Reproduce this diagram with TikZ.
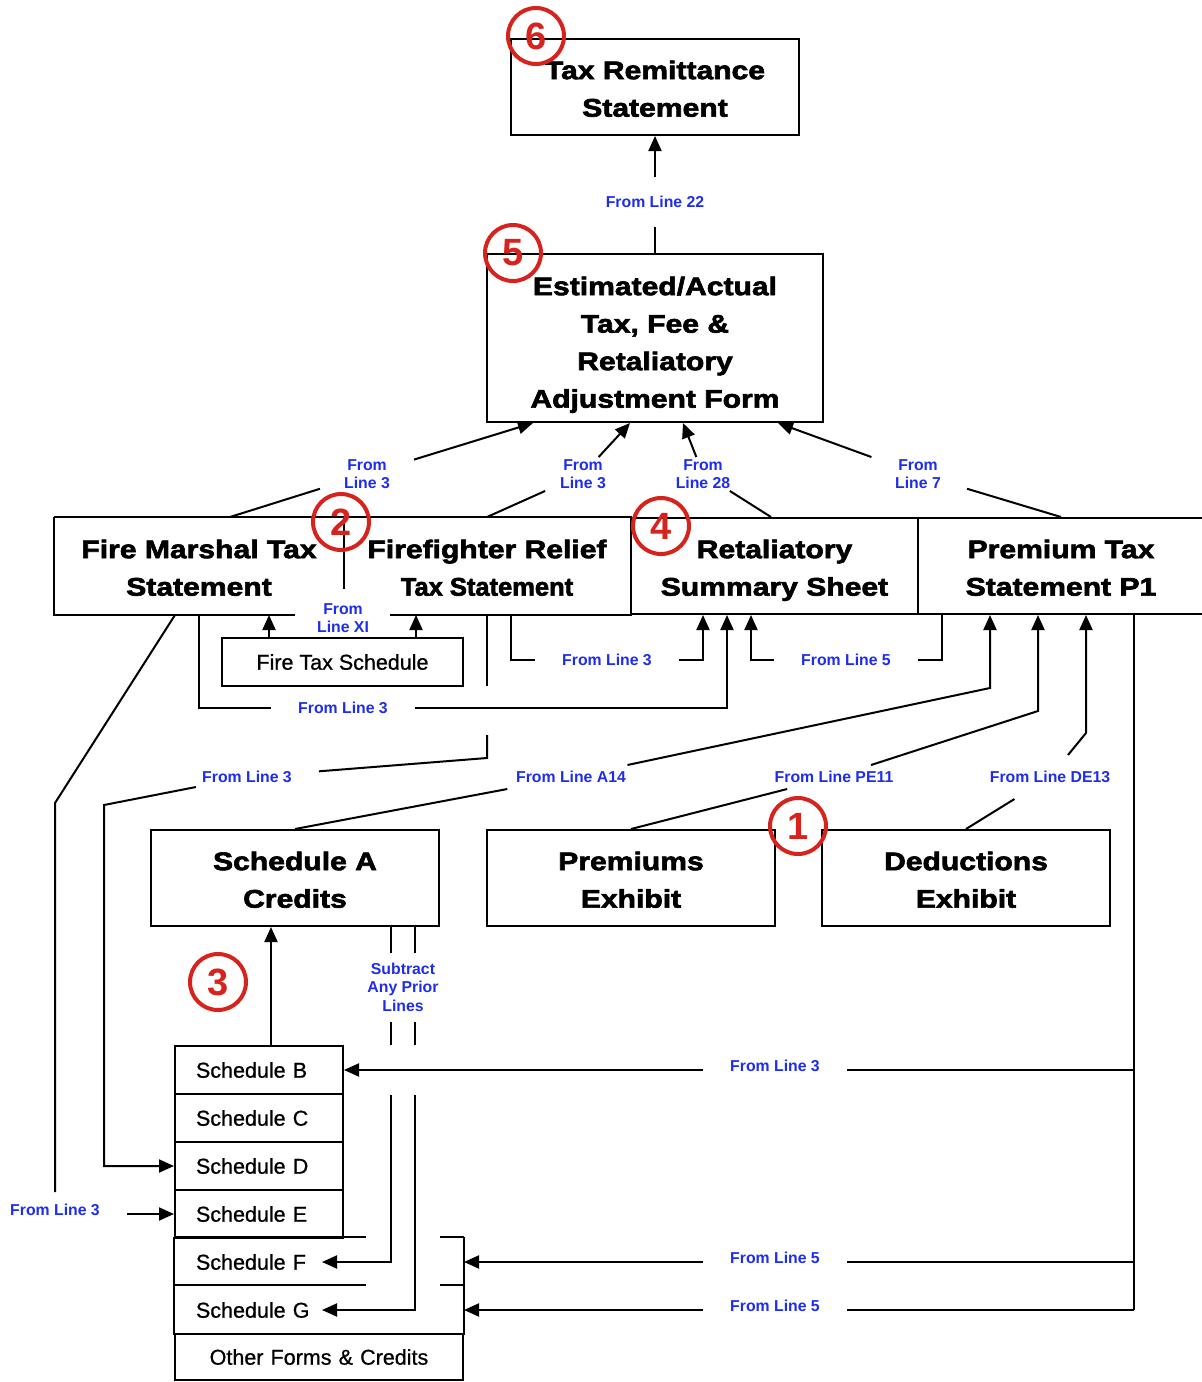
\documentclass[tikz,border=0pt]{standalone}
\usepackage{fontspec}
\setmainfont{Liberation Sans}
\newfontfamily\boxfont{Liberation Sans Bold}[FakeStretch=1.18,FakeBold=2.5]
\newfontfamily\boxfontn{Liberation Sans Bold}[FakeBold=2.5]
\newfontfamily\lblfontf{Liberation Sans Bold}
\newfontfamily\schfont{Liberation Sans}[FakeBold=0.8]
\usetikzlibrary{arrows.meta,calc}
\definecolor{lblblue}{RGB}{30,45,235}
\definecolor{numred}{RGB}{215,35,30}
\newcommand{\tS}{\rule{0pt}{31.8pt}}
\newcommand{\tSe}{\rule{0pt}{36.8pt}}
\newcommand{\bS}{\rule[-10pt]{0pt}{10pt}}
\begin{document}
\begin{tikzpicture}[x=1pt,y=-1pt,
  ln/.style={line width=2pt},
  arr/.style={line width=2pt,-{Triangle[length=15pt,width=13pt]}},
  bigbox/.style={line width=2pt, minimum height=96pt, inner sep=0pt, align=center, font=\boxfont\fontsize{25.5}{37.5}\selectfont},
  lbl/.style={text=lblblue, align=center, inner sep=0pt, font=\lblfontf\fontsize{15.8}{18.5}\selectfont},
  sched/.style={line width=2pt, minimum height=48pt, inner xsep=21pt, inner ysep=0pt, align=left, font=\schfont\fontsize{21.5}{25}\selectfont},
  num/.style={circle, draw=numred, line width=4pt, minimum size=56pt, inner sep=0pt, text=numred, font=\lblfontf\fontsize{38}{38}\selectfont},
]
\useasboundingbox (0,0) rectangle (1202,1382);

% main boxes
\node[bigbox,draw,minimum width=288pt] (trs) at (655,87) {\tS Tax Remittance\\Statement\bS};
\node[bigbox,draw,minimum width=336pt,minimum height=168pt] (ea) at (655,338) {\tSe Estimated/Actual\\Tax, Fee \&\\Retaliatory\\Adjustment Form\bS};
\node[bigbox,minimum width=288pt] (fm) at (199,566) {\tS Fire Marshal Tax\\Statement\bS};
\node[bigbox,minimum width=288pt] (ff) at (487,566) {\tS Firefighter Relief\\{\boxfontn Tax Statement}\bS};
\node[bigbox,draw,minimum width=287pt] (rs) at (774.5,566) {\tS Retaliatory\\Summary Sheet\bS};
\node[bigbox,draw,minimum width=286pt] (pt) at (1061,566) {\tS Premium Tax\\Statement P1\bS};
\node[draw,line width=2pt,minimum width=241pt,minimum height=48pt,inner sep=0pt,font=\schfont\fontsize{21.5}{25}\selectfont] (fts) at (342.5,662) {Fire Tax Schedule};
\node[bigbox,draw,minimum width=288pt] (sa) at (295,878) {\tS Schedule A\\Credits\bS};
\node[bigbox,draw,minimum width=288pt] (pe) at (631,878) {\tS Premiums\\Exhibit\bS};
\node[bigbox,draw,minimum width=288pt] (de) at (966,878) {\tS Deductions\\Exhibit\bS};

% schedule stack
\node[sched,draw,text width=126pt] (schB) at (259,1070) {Schedule B};
\node[sched,draw,text width=126pt] (schC) at (259,1118) {Schedule C};
\node[sched,draw,text width=126pt] (schD) at (259,1166) {Schedule D};
\node[sched,draw,text width=126pt] (schE) at (259,1214) {Schedule E};
\node[sched,text width=246pt] (schF) at (319,1262) {Schedule F};
\node[sched,text width=246pt] (schG) at (319,1310) {Schedule G};
\node[sched,draw,text width=246pt,align=center,minimum height=46pt] (oth) at (319,1357) {Other Forms \& Credits};

% outlines of the joined boxes
\draw[ln] (fm.north west) -- (ff.north east);
\draw[ln] (fm.north west) -- (fm.south west) -- ($(fm.south west)+(241,0)$);
\draw[ln] ($(ff.south west)+(48,0)$) -- (ff.south east);
\draw[ln] (fm.north east) -- ($(fm.north east)+(0,72)$);
\draw[ln] (schF.north west) -- (schG.south west);
\draw[ln] (schF.north east) -- (schG.south east);
\draw[ln] (schF.north west) -- ($(schF.north west)+(192,0)$);
\draw[ln] ($(schF.north east)+(-24,0)$) -- (schF.north east);
\draw[ln] (schG.north west) -- ($(schG.north west)+(192,0)$);
\draw[ln] ($(schG.north east)+(-24,0)$) -- (schG.north east);

% labels
\node[lbl,inner ysep=19pt] (l22) at (655,202) {From Line 22};
\node[lbl,inner xsep=24pt,inner ysep=2pt] (lfm) at (367,474) {From\\Line 3};
\node[lbl,inner xsep=24pt,inner ysep=2pt] (lff) at (583,474) {From\\Line 3};
\node[lbl,inner xsep=24pt,inner ysep=2pt] (lrs) at (703,474) {From\\Line 28};
\node[lbl,inner xsep=26pt,inner ysep=2pt] (lpt) at (918,474) {From\\Line 7};
\node[lbl] (lxi) at (343,618) {From\\Line XI};
\node[lbl,inner xsep=27pt,inner ysep=4pt] (l3a) at (343,708) {From Line 3};
\node[lbl,inner xsep=27pt,inner ysep=4pt] (l3b) at (607,660) {From Line 3};
\node[lbl,inner xsep=27pt,inner ysep=4pt] (l5a) at (846,660) {From Line 5};
\node[lbl,inner xsep=27pt,inner ysep=4pt] (l3c) at (247,777) {From Line 3};
\node[lbl,inner xsep=27pt,inner ysep=12pt] (l3d) at (55,1210) {From Line 3};
\node[lbl,inner xsep=20pt,inner ysep=6pt] (la14) at (571,777) {From Line A14};
\node[lbl,inner xsep=10pt,inner ysep=6pt] (lpe) at (834,777) {From Line PE11};
\node[lbl,inner xsep=4pt,inner ysep=16pt] (lde) at (1050,777) {From Line DE13};
\node[lbl,inner xsep=27pt,inner ysep=4pt] (lb3) at (775,1066) {From Line 3};
\node[lbl,inner xsep=27pt,inner ysep=4pt] (lf5) at (775,1258) {From Line 5};
\node[lbl,inner xsep=27pt,inner ysep=4pt] (lg5) at (775,1306) {From Line 5};
\node[lbl,inner ysep=10pt] (lsub) at (403,987) {Subtract\\Any Prior\\Lines};

% connectors to the top
\draw[ln] (ea.north) -- (l22);
\draw[arr] (l22) -- (trs.south);
\draw[ln] ($(fm.north)+(31,0)$) -- (lfm);
\draw[arr] (lfm) -- ($(ea.south)+(-122,0)$);
\draw[ln] (ff.north) -- (lff);
\draw[arr] (lff) -- ($(ea.south)+(-25,0)$);
\draw[ln] ($(rs.north)+(-3.5,0)$) -- (lrs);
\draw[arr] (lrs) -- ($(ea.south)+(28,0)$);
\draw[ln] (pt.north) -- (lpt);
\draw[arr] (lpt) -- ($(ea.south)+(123,0)$);

% fire tax schedule
\coordinate (ft1) at ($(fts.north west)+(48,0)$);
\coordinate (ft2) at ($(fts.north east)+(-48,0)$);
\draw[arr] (ft1) -- (ft1 |- fm.south);
\draw[arr] (ft2) -- (ft2 |- ff.south);

% into retaliatory summary
\draw[ln] (fm.south) |- (l3a.west);
\draw[arr] (l3a.east) -| ($(rs.south)+(-47.5,0)$);
\draw[ln] ($(ff.south)+(24,0)$) |- (l3b.west);
\draw[arr] (l3b.east) -| ($(rs.south)+(-71.5,0)$);
\draw[ln] ($(pt.south)+(-119,0)$) |- (l5a.east);
\draw[arr] (l5a.west) -| ($(rs.south)+(-23.5,0)$);

% firefighter to schedule D
\coordinate (ffd) at (ff.south |- l3a);
\coordinate (bendD) at (104,805);
\draw[ln] (ff.south) -- ($(ffd)+(0,-22)$);
\draw[ln] ($(ffd)+(0,27)$) -- ($(ffd)+(0,50)$) -- (l3c);
\draw[arr] (l3c) -- (bendD) |- (schD.west);

% fire marshal to schedule E
\coordinate (bendE) at (55,803);
\draw[ln] ($(fm.south)+(-24,0)$) -- (bendE) -- (l3d);
\draw[arr] (l3d.east |- schE.west) -- (schE.west);

% into premium tax statement
\coordinate (bendA) at (990,688);
\coordinate (bendP) at (1038,711);
\coordinate (bendDE) at (1086,733);
\draw[ln] (sa.north) -- (la14);
\draw[arr] (la14) -- (bendA) -- (bendA |- pt.south);
\draw[ln] (pe.north) -- (lpe);
\draw[arr] (lpe) -- (bendP) -- (bendP |- pt.south);
\draw[ln] (de.north) -- (lde);
\draw[arr] (lde) -- (bendDE) -- (bendDE |- pt.south);

% premium tax down to schedules
\coordinate (ptv) at ($(pt.south)+(73,0)$);
\draw[ln] (ptv) -- (ptv |- schG.east);
\draw[ln] (ptv |- schB.east) -- (lb3.east |- schB.east);
\draw[ln] (ptv |- schF.east) -- (lf5.east |- schF.east);
\draw[ln] (ptv |- schG.east) -- (lg5.east |- schG.east);
\draw[arr] (lb3.west |- schB.east) -- (schB.east);
\draw[arr] (lf5.west |- schF.east) -- (schF.east);
\draw[arr] (lg5.west |- schG.east) -- (schG.east);

% schedule B to A
\coordinate (bup) at ($(schB.north)+(12,0)$);
\draw[arr] (bup) -- (bup |- sa.south);

% subtract any prior lines
\coordinate (s1) at ($(sa.south)+(96,0)$);
\coordinate (s2) at ($(sa.south)+(120,0)$);
\draw[ln] (s1) -- (s1 |- lsub.north);
\draw[ln] (s2) -- (s2 |- lsub.north);
\draw[ln] (s1 |- lsub.south) -- (s1 |- schB.north);
\draw[ln] (s2 |- lsub.south) -- (s2 |- schB.north);
\draw[arr] (s1 |- schB.south) -- (s1 |- schF.east) -- ($(schF.east)+(-142,0)$);
\draw[arr] (s2 |- schB.south) -- (s2 |- schG.east) -- ($(schG.east)+(-142,0)$);

% numbered markers
\node[num] (n6) at (536,36) {6};
\node[num] (n5) at (513,253) {5};
\node[num] (n2) at (341,522) {2};
\node[num] (n4) at (661,526) {4};
\node[num] (n1) at (798,826) {1};
\node[num] (n3) at (218,982) {3};
\end{tikzpicture}
\end{document}
